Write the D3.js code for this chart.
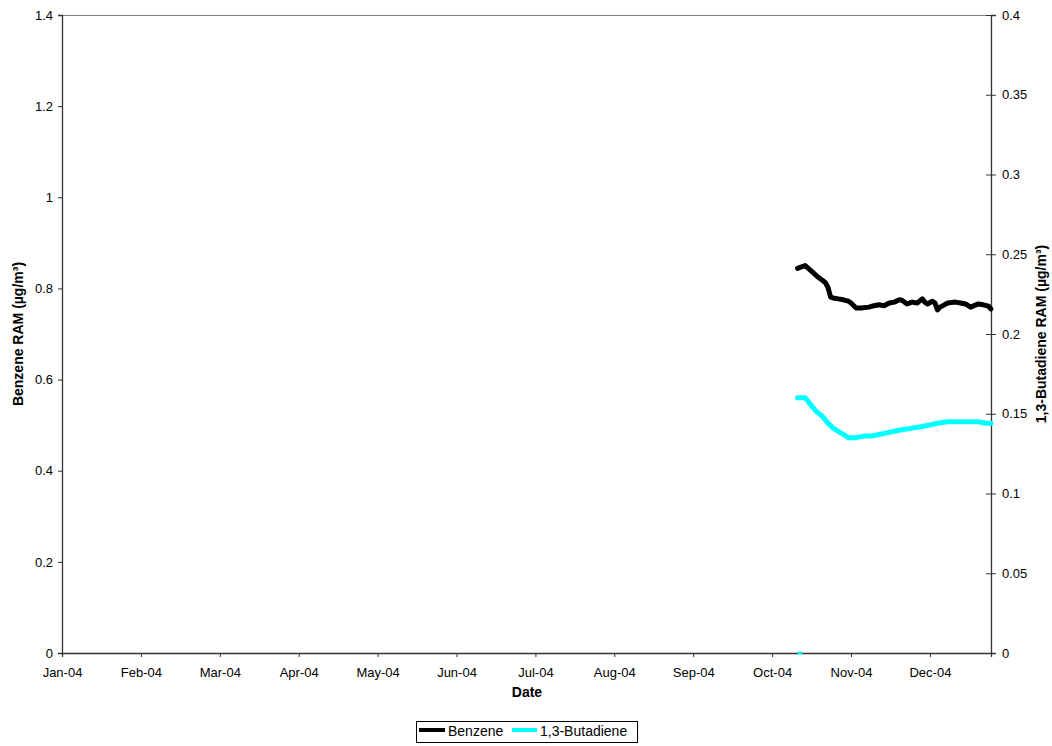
<!DOCTYPE html>
<html>
<head>
<meta charset="utf-8">
<script src="https://cdn.jsdelivr.net/npm/d3@7"></script>
<style>
  html, body { margin: 0; padding: 0; background: #fff; }
  svg { display: block; font-family: "Liberation Sans", Arial, sans-serif; }
</style>
</head>
<body>
<svg id="chart" width="1052" height="746"></svg>
<script>
// ---- data (day index from 1 Jan 2004 = 0) ----
const tickDays = [0, 31, 62, 93, 124, 155, 186, 217, 248, 279, 310, 341];
const tickLabels = ["Jan-04","Feb-04","Mar-04","Apr-04","May-04","Jun-04","Jul-04","Aug-04","Sep-04","Oct-04","Nov-04","Dec-04"];
const leftTicks = [0, 0.2, 0.4, 0.6, 0.8, 1, 1.2, 1.4];
const rightTicks = [0, 0.05, 0.1, 0.15, 0.2, 0.25, 0.3, 0.35, 0.4];

const benzeneDays = [289, 290, 292, 294, 295, 297, 299, 300, 301, 302, 303, 305, 307, 309, 310, 312, 314, 317, 319, 321, 323, 325, 327, 329, 330, 332, 334, 336, 338, 339, 340, 342, 343, 344, 345, 348, 351, 353, 355, 357, 360, 362, 364, 365];
const benzeneValues = [0.844, 0.846, 0.850, 0.840, 0.835, 0.825, 0.817, 0.812, 0.801, 0.781, 0.779, 0.777, 0.775, 0.772, 0.768, 0.757, 0.757, 0.759, 0.762, 0.764, 0.762, 0.768, 0.770, 0.775, 0.774, 0.766, 0.770, 0.768, 0.777, 0.770, 0.766, 0.772, 0.768, 0.753, 0.759, 0.768, 0.770, 0.768, 0.766, 0.759, 0.766, 0.764, 0.761, 0.755];

const butadieneDays = [289, 292, 294, 296, 299, 301, 303, 305, 307, 309, 312, 315, 318, 321, 324, 327, 330, 334, 338, 341, 344, 348, 352, 356, 360, 363, 365];
const butadieneValues = [0.160, 0.160, 0.156, 0.152, 0.148, 0.144, 0.141, 0.139, 0.137, 0.135, 0.135, 0.136, 0.136, 0.137, 0.138, 0.139, 0.140, 0.141, 0.142, 0.143, 0.144, 0.145, 0.145, 0.145, 0.145, 0.144, 0.144];
const butadieneZeroDays = [289.6, 290.4];
const butadieneZeroValues = [0, 0];

// ---- layout ----
const svg = d3.select("#chart");
const L = 62, R = 991, T = 15, B = 653;

const x = d3.scaleLinear().domain([0, 365]).range([L, R]);
const yL = d3.scaleLinear().domain([0, 1.4]).range([B, T]);
const yR = d3.scaleLinear().domain([0, 0.4]).range([B, T]);

// plot border (top)
svg.append("line").attr("x1", L).attr("x2", R).attr("y1", T + 0.5).attr("y2", T + 0.5)
  .attr("stroke", "#808080").attr("stroke-width", 1);

// left axis
const gL = svg.append("g").attr("transform", `translate(${L},0)`)
  .call(d3.axisLeft(yL).tickValues(leftTicks).tickSize(4).tickPadding(5).tickFormat(d3.format("")));
// right axis
const gR = svg.append("g").attr("transform", `translate(${R},0)`)
  .call(d3.axisRight(yR).tickValues(rightTicks).tickSize(5).tickPadding(6).tickFormat(d => d3.format("")(+d.toFixed(2))));
gR.selectAll(".tick line").attr("x1", -5);
// bottom axis
const gB = svg.append("g").attr("transform", `translate(0,${B})`)
  .call(d3.axisBottom(x).tickValues(tickDays).tickSize(4).tickPadding(11).tickFormat((d, i) => tickLabels[i]));

[gL, gR, gB].forEach(g => {
  g.select(".domain").attr("stroke", "#333").attr("stroke-width", 1.3);
  g.selectAll(".tick line").attr("stroke", "#333");
  g.selectAll(".tick text").attr("fill", "#000").style("font-size", "13px")
    .style("font-family", '"Liberation Sans", Arial, sans-serif');
});

// lines
const lineL = d3.line().x(d => x(d[0])).y(d => yL(d[1]));
const lineR = d3.line().x(d => x(d[0])).y(d => yR(d[1]));

svg.append("path").datum(butadieneZeroDays.map((d, i) => [d, butadieneZeroValues[i]]))
  .attr("d", lineR).attr("fill", "none").attr("stroke", "#00FFFF")
  .attr("stroke-width", 3).attr("stroke-linecap", "round");

svg.append("path").datum(benzeneDays.map((d, i) => [d, benzeneValues[i]]))
  .attr("d", lineL).attr("fill", "none").attr("stroke", "#000")
  .attr("stroke-width", 5).attr("stroke-linejoin", "round").attr("stroke-linecap", "round");

svg.append("path").datum(butadieneDays.map((d, i) => [d, butadieneValues[i]]))
  .attr("d", lineR).attr("fill", "none").attr("stroke", "#00FFFF")
  .attr("stroke-width", 5).attr("stroke-linejoin", "round").attr("stroke-linecap", "round");

// axis titles
svg.append("text").attr("x", 527).attr("y", 697).attr("text-anchor", "middle")
  .style("font-size", "14px").style("font-weight", "bold").text("Date");

svg.append("text").attr("transform", `translate(23,${(T + B) / 2}) rotate(-90)`)
  .attr("text-anchor", "middle").style("font-size", "14px").style("font-weight", "bold")
  .text("Benzene RAM (µg/m³)");

svg.append("text").attr("transform", `translate(1046,${(T + B) / 2}) rotate(-90)`)
  .attr("text-anchor", "middle").style("font-size", "14px").style("font-weight", "bold")
  .text("1,3-Butadiene RAM (µg/m³)");

// legend
const lg = svg.append("g");
lg.append("rect").attr("x", 416.5).attr("y", 721.5).attr("width", 221).attr("height", 21)
  .attr("fill", "#fff").attr("stroke", "#000").attr("stroke-width", 1);
const legendItems = [
  { name: "Benzene", color: "#000", x1: 419, x2: 445, tx: 448 },
  { name: "1,3-Butadiene", color: "#00FFFF", x1: 512, x2: 537, tx: 540 }
];
legendItems.forEach(it => {
  lg.append("line").attr("x1", it.x1).attr("x2", it.x2).attr("y1", 730).attr("y2", 730)
    .attr("stroke", it.color).attr("stroke-width", 4);
  lg.append("text").attr("x", it.tx).attr("y", 736).style("font-size", "14px").text(it.name);
});
</script>
</body>
</html>
